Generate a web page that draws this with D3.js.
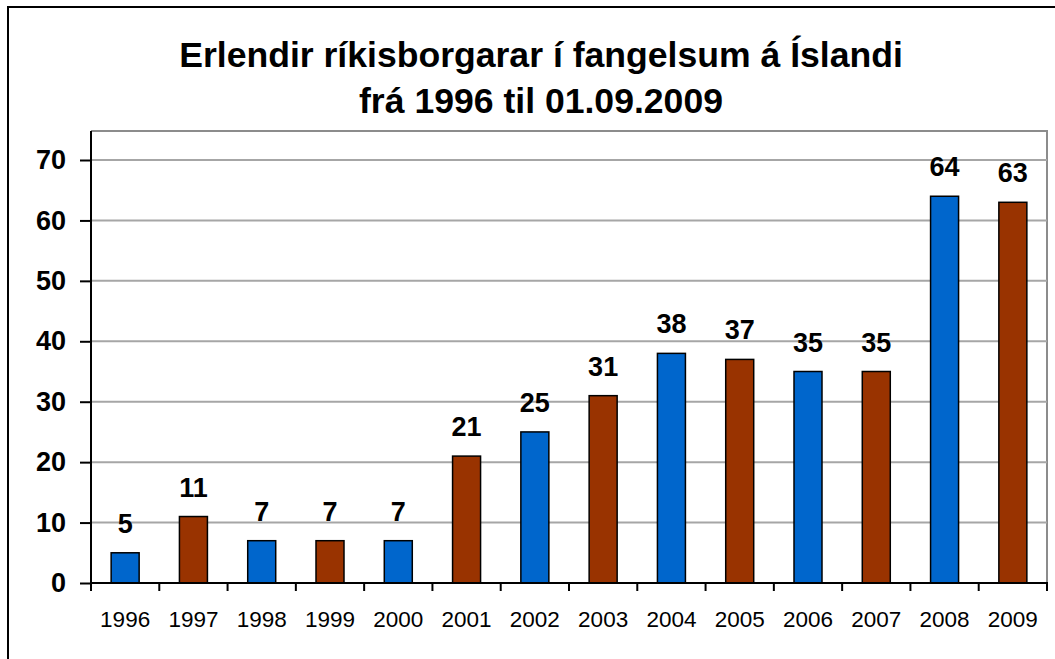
<!DOCTYPE html>
<html><head><meta charset="utf-8">
<script src="https://cdn.jsdelivr.net/npm/d3@7"></script>
<style>body{margin:0;background:#fff;} svg{display:block;font-family:"Liberation Sans",Arial,sans-serif;}</style>
</head><body><svg id="c" width="1055" height="659"></svg>
<script>
const years = ["1996","1997","1998","1999","2000","2001","2002","2003","2004","2005","2006","2007","2008","2009"];
const values = [5,11,7,7,7,21,25,31,38,37,35,35,64,63];
const yTicks = [0,10,20,30,40,50,60,70];
const titleLines = ["Erlendir ríkisborgarar í fangelsum á Íslandi","frá 1996 til 01.09.2009"];
const barColors = ["#0066CC","#993300"];

const svg = d3.select("#c");
const L=91, R=1047, T=131, B=583;
svg.append("rect").attr("x",8).attr("y",7).attr("width",1060).attr("height",670)
  .attr("fill","#fff").attr("stroke","#000").attr("stroke-width",2);

const x = d3.scaleBand().domain(years).range([L,R]).paddingInner(0.59).paddingOuter(0.295);
const xb = d3.scaleBand().domain(years).range([L,R]).padding(0);
const y = d3.scaleLinear().domain([0,70]).range([B,160]);

// plot border (top & right)
svg.append("path").attr("d",`M${L},${T}H${R}V${B}`).attr("fill","none").attr("stroke","#8c8c8c").attr("stroke-width",2);
// gridlines
svg.append("g").selectAll("line").data(yTicks.filter(d=>d>0)).join("line")
  .attr("x1",L).attr("x2",R).attr("y1",d=>y(d)).attr("y2",d=>y(d))
  .attr("stroke","#a6a6a6").attr("stroke-width",2);

// bars
svg.append("g").selectAll("rect").data(values).join("rect")
  .attr("x",(d,i)=>x(years[i])).attr("width",x.bandwidth())
  .attr("y",d=>y(d)).attr("height",d=>B-y(d))
  .attr("fill",(d,i)=>barColors[i%2]).attr("stroke","#000").attr("stroke-width",1.5);

// data labels
svg.append("g").selectAll("text").data(values).join("text")
  .attr("x",(d,i)=>x(years[i])+x.bandwidth()/2).attr("y",d=>y(d)-20)
  .attr("text-anchor","middle").attr("font-size",27).attr("font-weight","bold").text(d=>d);

// y axis
const ya = svg.append("g").attr("transform",`translate(${L},0)`)
  .call(d3.axisLeft(y).tickValues(yTicks).tickSize(11).tickPadding(14));
ya.select(".domain").remove();
ya.selectAll(".tick line").attr("stroke","#000").attr("stroke-width",2);
ya.selectAll(".tick text").attr("font-size",27).attr("font-weight","bold").attr("fill","#000")
  .attr("font-family","Liberation Sans, Arial, sans-serif");
svg.append("line").attr("x1",L).attr("x2",L).attr("y1",T).attr("y2",B+1).attr("stroke","#000").attr("stroke-width",2);

// x axis
const bounds = years.map(d=>xb(d)).concat([R]);
svg.append("g").selectAll("line").data(bounds).join("line")
  .attr("x1",d=>d).attr("x2",d=>d).attr("y1",B).attr("y2",B+8).attr("stroke","#000").attr("stroke-width",2);
svg.append("line").attr("x1",L).attr("x2",R+1).attr("y1",B).attr("y2",B).attr("stroke","#000").attr("stroke-width",2);
svg.append("g").selectAll("text").data(years).join("text")
  .attr("x",d=>xb(d)+xb.bandwidth()/2).attr("y",627)
  .attr("text-anchor","middle").attr("font-size",22.5).text(d=>d);

// title
svg.append("g").selectAll("text").data(titleLines).join("text")
  .attr("x",541).attr("y",(d,i)=>67+i*46)
  .attr("text-anchor","middle").attr("font-size",35.6).attr("font-weight","bold").text(d=>d);
</script></body></html>
